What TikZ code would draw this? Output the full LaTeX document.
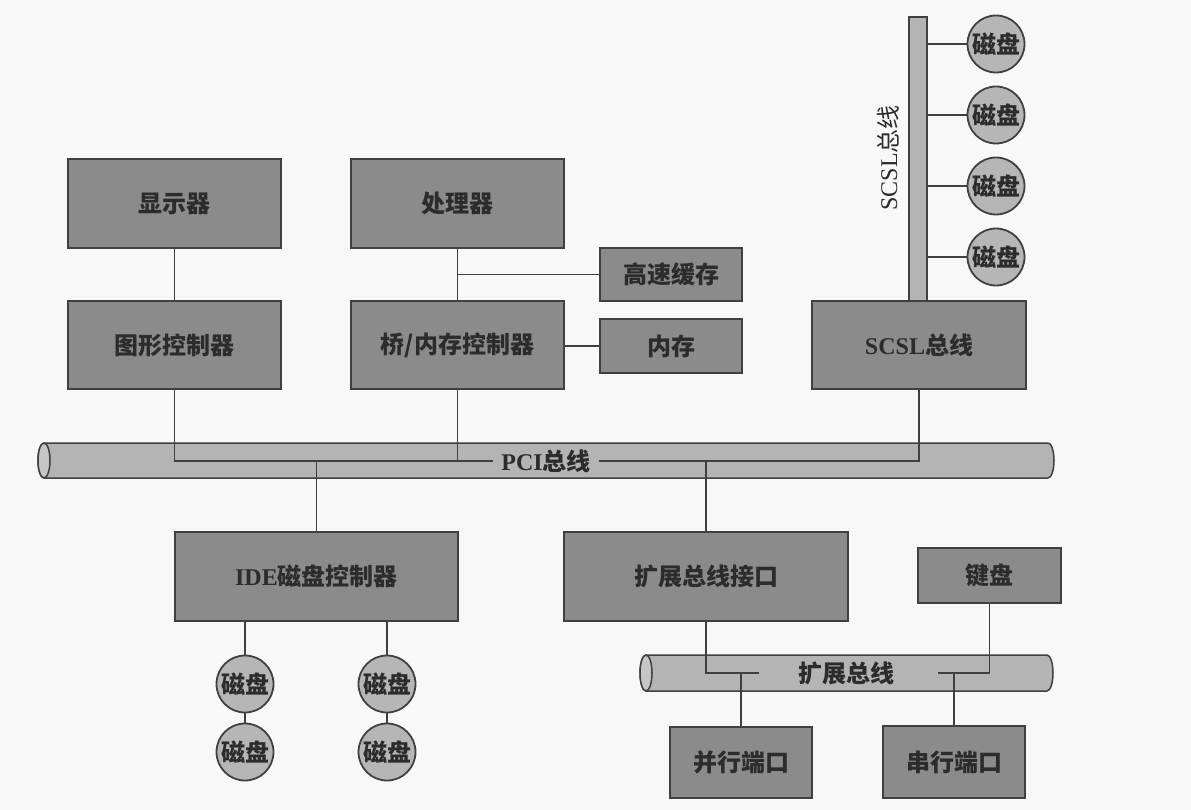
\documentclass[tikz,border=0pt]{standalone}
\usepackage{fontspec}
\setmainfont{Liberation Serif}
\newfontfamily\cjk{Noto Sans CJK SC}
\definecolor{boxfill}{HTML}{8B8B8B}
\definecolor{edge}{HTML}{404040}
\definecolor{busfill}{HTML}{B4B4B4}
\definecolor{capfill}{HTML}{C6C6C6}
\definecolor{diskfill}{HTML}{B6B6B6}
\definecolor{ink}{HTML}{2C2C2C}
\definecolor{paper}{HTML}{F8F8F8}

\begin{document}
\begin{tikzpicture}[x=1pt,y=-1pt,
  every node/.style={text=ink},
  txt/.style={font=\cjk\bfseries\fontsize{24}{24}\selectfont},
  unit/.style={txt, draw=edge, fill=boxfill, line width=2pt, inner sep=0pt},
  wire/.style={draw=edge, line width=1.9pt},
  disk/.style={txt, circle, draw=edge, fill=diskfill, line width=1.8pt,
    minimum size=57pt, inner sep=0pt},
  bus/.style={draw=edge, fill=busfill, line width=1.5pt},
  buscap/.style={draw=edge, fill=capfill, line width=1.5pt},
  buslabel/.style={txt, inner ysep=0pt, inner xsep=8pt},
]
\useasboundingbox[fill=paper] (0,0) rectangle (1191,810);

% ---- PCI bus (horizontal cylinder) ----
\path[bus] (44,443) -- (1048,443)
  arc[start angle=-90, end angle=90, x radius=6, y radius=17.5]
  -- (44,478)
  arc[start angle=90, end angle=270, x radius=6, y radius=17.5] -- cycle;
\path[buscap] (44,460.5) ellipse[x radius=6, y radius=17.5];

% ---- expansion bus (horizontal cylinder) ----
\path[bus] (646,655) -- (1047,655)
  arc[start angle=-90, end angle=90, x radius=6, y radius=18]
  -- (646,691)
  arc[start angle=90, end angle=270, x radius=6, y radius=18] -- cycle;
\path[buscap] (646,673) ellipse[x radius=6, y radius=18];

% ---- SCSI bus (vertical bar) ----
\node[bus, rectangle, minimum width=18pt, minimum height=284pt, inner sep=0pt] (scsibar) at (918,159) {};
\node[inner sep=0pt, rotate=90, font=\cjk\fontsize{24}{24}\selectfont] (scsilab) at (888,158) {{\rmfamily SCSL}总线};

% ---- units ----
\node[unit, minimum width=213pt, minimum height=89pt] (disp)   at (174.5,203.5) {显示器};
\node[unit, minimum width=213pt, minimum height=89pt] (cpu)    at (457.5,203.5) {处理器};
\node[unit, minimum width=213pt, minimum height=88pt] (gfx)    at (174.5,345)   {图形控制器};
\node[unit, minimum width=213pt, minimum height=88pt] (bridge) at (457.5,345)   {桥/内存控制器};
\node[unit, minimum width=142pt, minimum height=53pt] (cache)  at (671,274.5)   {高速缓存};
\node[unit, minimum width=142pt, minimum height=54pt] (mem)    at (671,346)     {内存};
\node[unit, minimum width=214pt, minimum height=88pt] (scsibox) at (919,345)    {{\rmfamily SCSL}总线};
\node[unit, minimum width=283pt, minimum height=89pt] (ide)    at (316.5,576.5) {{\rmfamily IDE}磁盘控制器};
\node[unit, minimum width=284pt, minimum height=89pt] (expif)  at (706,576.5)   {扩展总线接口};
\node[unit, minimum width=143pt, minimum height=55pt] (kbd)    at (989.5,575.5) {键盘};
\node[unit, minimum width=142pt, minimum height=71pt] (par)    at (741,762.5)   {并行端口};
\node[unit, minimum width=142pt, minimum height=72pt] (ser)    at (954,762)     {串行端口};

% ---- disks ----
\node[disk] (sd1) at (996,44)  {磁盘};
\node[disk] (sd2) at (996,115) {磁盘};
\node[disk] (sd3) at (996,186) {磁盘};
\node[disk] (sd4) at (996,257) {磁盘};
\node[disk] (id1) at (245,684) {磁盘};
\node[disk] (id2) at (245,752) {磁盘};
\node[disk] (id3) at (387,684) {磁盘};
\node[disk] (id4) at (387,752) {磁盘};

% ---- bus labels ----
\node[buslabel] (pcilab) at (546,461) {{\rmfamily PCI}总线};
\node[buslabel] (explab) at (846,673) {扩展总线};
\coordinate (ebl) at (759,673);
\coordinate (ebr) at (938,673);

% ---- connectors ----
\draw[wire] (disp) -- (gfx);
\draw[wire] (cpu) -- (bridge);
\draw[wire] (cpu.south |- cache.west) -- (cache.west);
\draw[wire] (bridge.east |- mem.west) -- (mem.west);

\draw[wire] (gfx.south) |- (pcilab.west);
\draw[wire] (bridge.south) -- (bridge.south |- pcilab.west);
\draw[wire] (pcilab.east) -| (scsibox.south);
\draw[wire] (ide.north) -- (ide.north |- pcilab.west);
\draw[wire] (expif.north) -- (expif.north |- pcilab.west);

\foreach \d in {sd1,sd2,sd3,sd4}
  \draw[wire] (scsibar.east |- \d) -- (\d);

\draw[wire] (id1 |- ide.south) -- (id1);
\draw[wire] (id1) -- (id2);
\draw[wire] (id3 |- ide.south) -- (id3);
\draw[wire] (id3) -- (id4);

\draw[wire] (expif.south) |- (ebl);
\draw[wire] (par.north) -- (par.north |- ebl);
\draw[wire] (kbd.south) |- (ebr);
\draw[wire] (ser.north) -- (ser.north |- ebr);
\end{tikzpicture}
\end{document}
